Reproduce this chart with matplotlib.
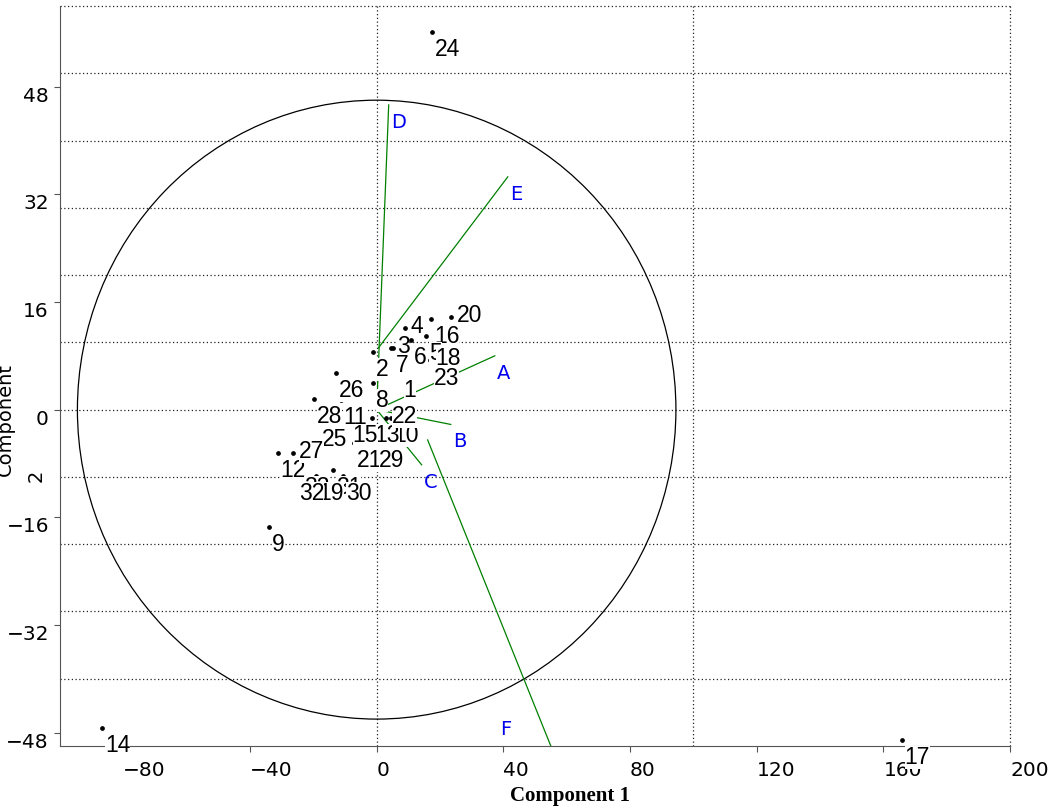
import matplotlib
matplotlib.use('Agg')
import matplotlib.pyplot as plt
from matplotlib.patches import Ellipse

# scores (component 1, component 2)
labels = [str(i) for i in range(1, 34)]
comp1 = [7.6, -1.3, 4.4, 8.8, 15.5, 10.7, 5.1, -1.3, -34.1, 4.4,
         -11.4, -31.3, -1.6, -86.8, -8.5, 17.1, 165.8, 16.7, -19.3, 23.4,
         -7.3, 2.8, 17.1, 17.4, -18.3, -12.9, -26.5, -19.9, -0.3, -10.7,
         -13.9, -25.6, -24.0]
comp2 = [5.5, 8.5, 9.2, 12.2, 11.0, 10.3, 9.1, 3.9, -17.5, -1.2,
         1.5, -6.4, -1.2, -47.3, -1.2, 13.5, -49.1, 7.4, -9.8, 13.7,
         -4.9, -1.2, 7.3, 56.2, -1.9, 5.5, -6.4, 1.6, -4.9, -9.8,
         -8.9, -9.8, -8.9]
# where the label sits: 'b' below-right, 'r' right
side = ['b', 'b', 'r', 'r', 'b', 'b', 'b', 'b', 'b', 'b',
        'b', 'b', 'b', 'b', 'b', 'b', 'b', 'r', 'b', 'r',
        'b', 'r', 'b', 'b', 'b', 'b', 'r', 'b', 'b', 'b',
        'b', 'b', 'b']

# loadings
vec_names = ['A', 'B', 'C', 'D', 'E', 'F']
vec_x0 = [0, 0, 0, 0, 0.6, 16.1]
vec_y0 = [0, 0, 0, 0, 9.2, -4.5]
vec_x1 = [37.3, 23.4, 14.2, 3.8, 41.4, 56.7]
vec_y1 = [8.0, -2.2, -8.2, 45.3, 34.6, -52.0]
vec_lx = [37.3, 23.4, 14.2, 3.8, 41.4, 38.2]
vec_ly = [8.0, -2.2, -8.2, 45.3, 34.6, -45.0]

xticks = [-80, -40, 0, 40, 80, 120, 160, 200]
yticks = [-48, -32, -16, 0, 16, 32, 48]
grid_x = [0, 100, 200]
grid_y = [-40, -30, -20, -10, 0, 10, 20, 30, 40, 50, 60]

fig = plt.figure(figsize=(10.52, 8.10), dpi=100)
ax = fig.add_axes([60/1052, 64/810, 950/1052, 740/810])
ax.set_xlim(-100, 200)
ax.set_ylim(-50, 60)

for gx in grid_x:
    ax.axvline(gx, color='#222222', lw=0.9, ls=(0, (1, 2)), zorder=1, clip_on=False)
for gy in grid_y:
    ax.axhline(gy, color='#222222', lw=0.9, ls=(0, (1, 2)), zorder=1, clip_on=False)

ax.add_patch(Ellipse((0, 0), 189, 92, fill=False, ec='black', lw=0.9, zorder=2))

for i in range(len(vec_names)):
    ax.plot([vec_x0[i], vec_x1[i]], [vec_y0[i], vec_y1[i]], color='#008000', lw=0.9, zorder=2)
    ax.annotate(vec_names[i], (vec_lx[i], vec_ly[i]), xytext=(2, -23), textcoords='offset pixels',
                ha='left', va='baseline', color='#0000ee', fontsize=14, family='DejaVu Sans',
                annotation_clip=False)

ax.plot(comp1, comp2, 'o', color='black', ms=2.4, zorder=2.5, clip_on=False)
for i in range(len(labels)):
    off = (3, -24) if side[i] == 'b' else (6, -5)
    ax.annotate(labels[i], (comp1[i], comp2[i]), xytext=off, textcoords='offset pixels',
                ha='left', va='baseline', fontsize=16.5, family='Liberation Sans',
                bbox=dict(fc='white', ec='none', pad=0), zorder=3 - comp2[i] * 0.01,
                annotation_clip=False)

ax.spines['top'].set_visible(False)
ax.spines['right'].set_visible(False)
ax.spines['left'].set_color('#555555')
ax.spines['bottom'].set_color('#555555')

ax.set_xticks(xticks)
ax.set_yticks(yticks)
ax.set_xticklabels([str(t).replace('-', '\u2212') for t in xticks])
ax.set_yticklabels([str(t).replace('-', '\u2212') for t in yticks])
ax.tick_params(axis='both', direction='out', length=4, color='#555555', labelsize=14.5)
ax.tick_params(axis='x', pad=7)
ax.tick_params(axis='y', pad=4)
plt.setp(ax.get_xticklabels(), ha='left')
plt.setp(ax.get_yticklabels(), va='top')

fig.text(570/1052, 1 - 801/810, 'Component 1', ha='center', va='baseline',
         family='Liberation Serif', weight='bold', fontsize=15)
fig.text(5/1052, 1 - 420/810, 'Component', rotation=90, ha='center', va='center', fontsize=14)
fig.text(36/1052, 1 - 476/810, '2', rotation=90, ha='center', va='center', fontsize=14)

fig.savefig('out.png', dpi=100)
